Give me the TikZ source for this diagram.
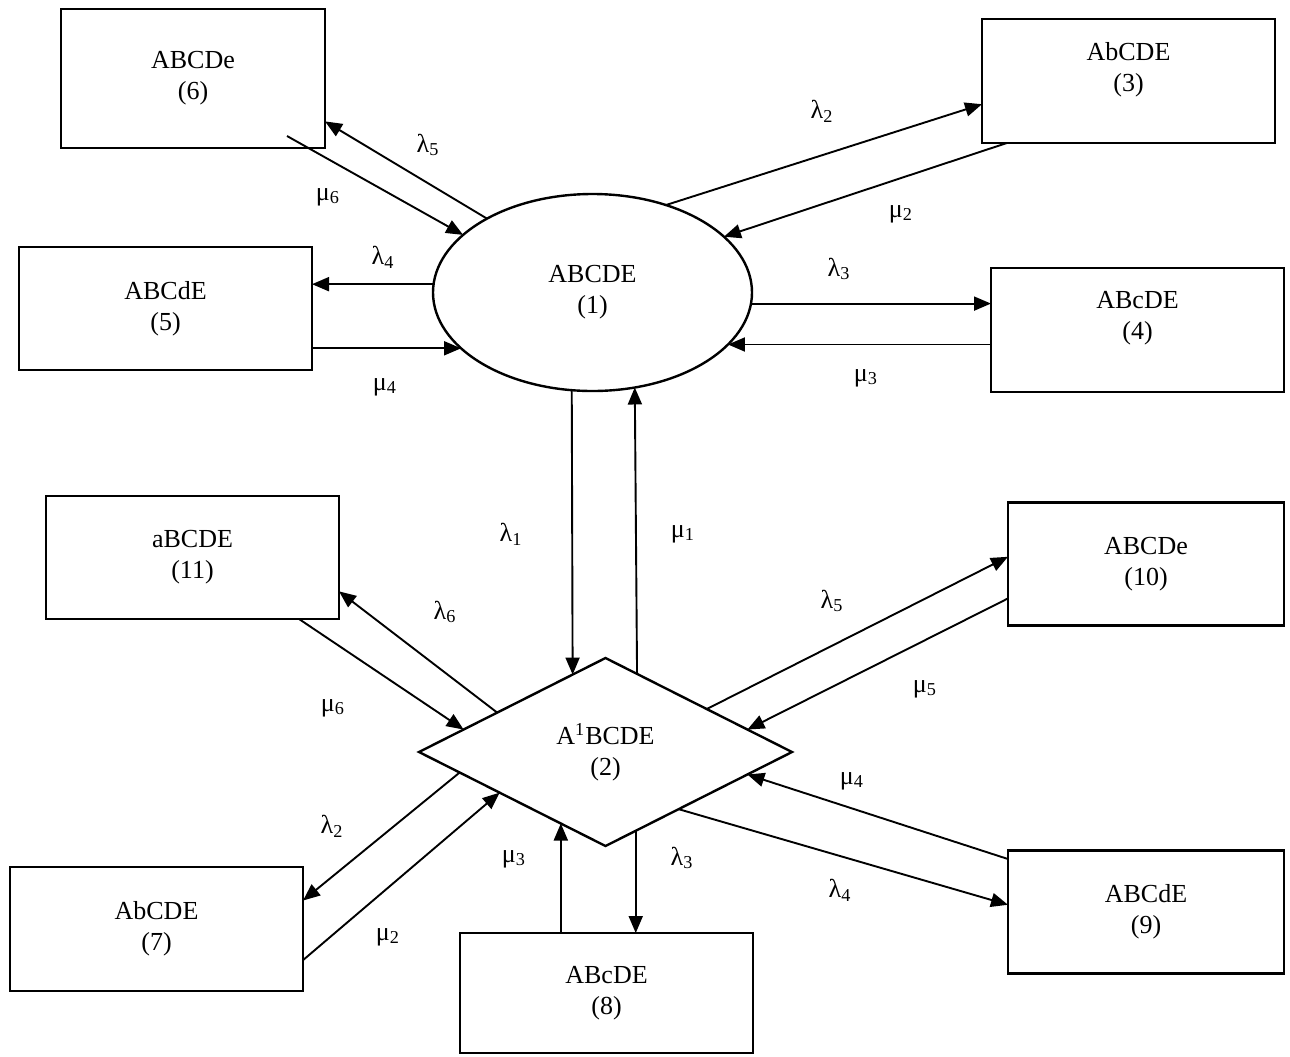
\documentclass[tikz,border=0pt]{standalone}
\usepackage{fontspec}
\setmainfont{Liberation Serif}
\usepackage{tikz}
\usetikzlibrary{shapes, arrows, calc, arrows.meta, fit, positioning}

\begin{document}
\begin{tikzpicture}[x=0.5pt, y=-0.5pt,
  box/.style = {draw, rectangle, line width=1.3pt, minimum width=146.5pt, minimum height=61.5pt, inner sep=0pt, outer sep=0pt, align=center, font=\fontsize{13}{15.5}\selectfont},
  oval/.style = {draw, ellipse, line width=1.2pt, minimum width=159.5pt, minimum height=98.5pt, inner sep=0pt, outer sep=0pt, align=center, font=\fontsize{13}{15.5}\selectfont},
  dia/.style = {draw, diamond, line width=1.2pt, minimum width=186.5pt, minimum height=94pt, inner sep=0pt, outer sep=0pt, align=center, font=\fontsize{13}{15.5}\selectfont},
  rate/.style = {inner sep=0pt, font=\fontsize{13}{15}\selectfont},
  arr/.style = {-{Triangle[length=8.5pt,width=7pt]}, line width=0.95pt}]
\useasboundingbox (0,0) rectangle (1290,1056);

\node[oval] (1) at (592.5,292.5) {ABCDE\\(1)};
\node[dia] (2) at (605.5,752) {A\textsuperscript{1}BCDE\\(2)};
\node[box, minimum height=62pt, text depth=14.5pt] (3) at (1128.5,81) {AbCDE\\(3)};
\node[box, minimum height=62pt, text depth=14.5pt] (4) at (1137.5,330) {ABcDE\\(4)};
\node[box] (5) at (165.5,308.5) {ABCdE\\(5)};
\node[box, minimum width=132pt, minimum height=69.5pt] (6) at (193,78.5) {ABCDe\\(6)};
\node[box, minimum height=62pt] (7) at (156.5,929) {AbCDE\\(7)};
\node[box, minimum height=60pt] (8) at (606.5,993) {ABcDE\\(8)};
\node[box, minimum width=138pt] (9) at (1146,912) {ABCdE\\(9)};
\node[box, minimum width=138pt] (10) at (1146,564) {ABCDe\\(10)};
\node[box] (11) at (192.5,557.5) {aBCDE\\(11)};

\node[rate] (l5a) at (428,145) {λ\textsubscript{5}};
\node[rate] (m6a) at (328,197) {μ\textsubscript{6}};
\node[rate] (l4a) at (383,257) {λ\textsubscript{4}};
\node[rate] (m4a) at (385,387) {μ\textsubscript{4}};
\node[rate] (l2a) at (822,111) {λ\textsubscript{2}};
\node[rate] (m2a) at (901,214) {μ\textsubscript{2}};
\node[rate] (l3a) at (839,269) {λ\textsubscript{3}};
\node[rate] (m3a) at (866,378) {μ\textsubscript{3}};
\node[rate] (l1) at (511,534) {λ\textsubscript{1}};
\node[rate] (m1) at (683,534) {μ\textsubscript{1}};
\node[rate] (l6) at (445,612) {λ\textsubscript{6}};
\node[rate] (m6b) at (333,708) {μ\textsubscript{6}};
\node[rate] (l2b) at (332,826) {λ\textsubscript{2}};
\node[rate] (m2b) at (388,937) {μ\textsubscript{2}};
\node[rate] (m3b) at (514,859) {μ\textsubscript{3}};
\node[rate] (l3b) at (682,858) {λ\textsubscript{3}};
\node[rate] (l5b) at (832,601) {λ\textsubscript{5}};
\node[rate] (m5) at (925,689) {μ\textsubscript{5}};
\node[rate] (m4b) at (852,781) {μ\textsubscript{4}};
\node[rate] (l4b) at (840,890) {λ\textsubscript{4}};

\draw[arr] (1.145) -- (6.342);
\draw[arr] ($(6.south east)+(-38,-12)$) -- (1.156);
\draw[arr] (1.177.3) -- (1.177.3 -| 5.east);
\draw[arr] (1.203.4 -| 5.east) -- (1.203.4);
\draw[arr] (1.50.2) -- (3.189.3);
\draw[arr] (3.207) -- (1.23.5);
\draw[arr] (1.356.6) -- (1.356.6 -| 4.west);
\draw[arr] (1.339.8 -| 4.west) -- (1.339.8);
\draw[arr] (1.258.2) -- (2.113.5);
\draw[arr] (2.68.8) -- (1.294.7);
\draw[arr] (2.160.3) -- (11.347.6);
\draw[arr] (11.330.9) -- (2.171.5);
\draw[arr] (2.188.5) -- (7.11.2);
\draw[arr] (7.348.8) -- (2.201.5);
\draw[arr] (2.238.5 |- 8.north) -- (2.238.5);
\draw[arr] (2.291.2) -- (2.291.2 |- 8.north);
\draw[arr] (2.23) -- (10.177.5);
\draw[arr] (10.194.2) -- (2.9.3);
\draw[arr] (9.159) -- (2.351.6);
\draw[arr] (2.322.6) -- (9.177.1);
\end{tikzpicture}
\end{document}
